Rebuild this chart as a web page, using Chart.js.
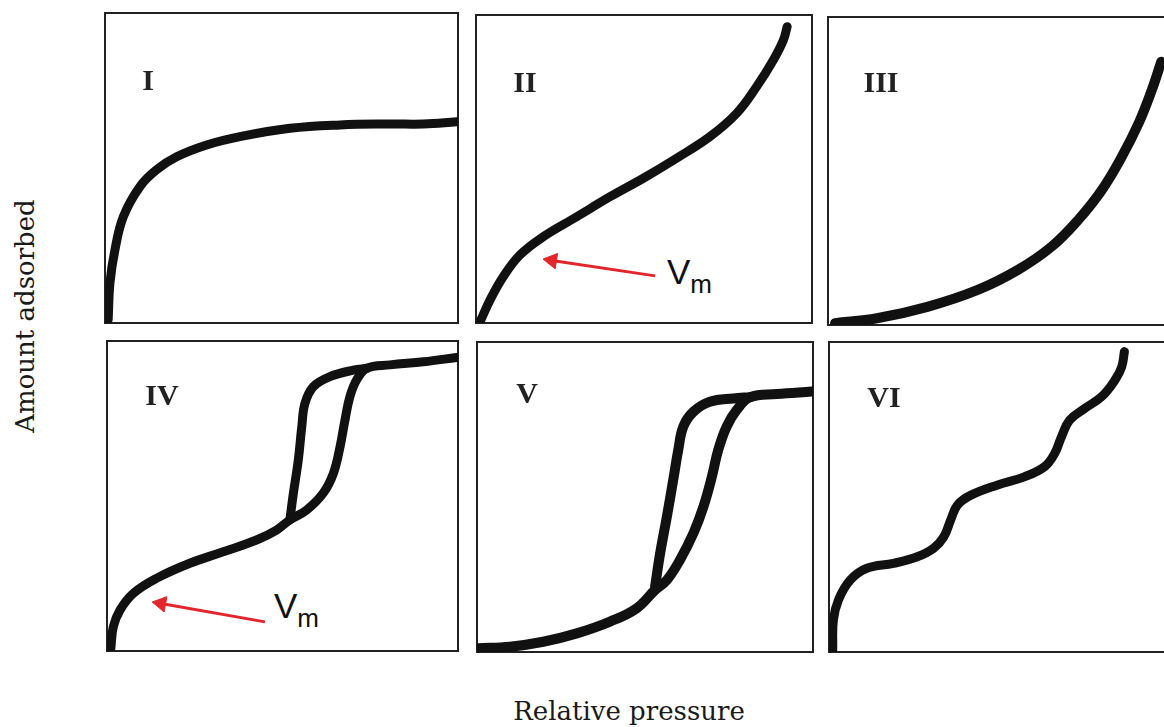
<!DOCTYPE html>
<html>
<head>
<meta charset="utf-8">
<script src="https://cdn.jsdelivr.net/npm/chart.js@4.4.1/dist/chart.umd.min.js"></script>
<style>
    body { margin: 0; background: #fff; overflow: hidden; }
    #figura { position: relative; width: 1164px; height: 727px; overflow: hidden; }
    canvas { position: absolute; }
    .rotulo { position: absolute; transform: translate(-50%, -50%); line-height: 1; white-space: nowrap; color: #222; }
    .tipo { font-family: "Liberation Serif", serif; font-weight: bold; font-size: 30px; }
    .eixo { font-family: "DejaVu Serif", serif; font-size: 26px; color: #1a1a1a; }
    .vm { position: absolute; line-height: 1; font-family: "Liberation Sans", Arial, sans-serif; font-size: 35px; color: #111; white-space: nowrap; }
    .vm span { font-size: 26px; position: relative; top: 9px; }
</style>
</head>
<body>
<div id="figura"></div>

<script>
// pressao relativa (p) e quantidade adsorvida (a), escala 0..1 de cada quadro
const p1 = [0.009, 0.014, 0.028, 0.052, 0.099, 0.146, 0.203, 0.288, 0.382, 0.524, 0.666, 0.807, 0.902, 0.996];
const a1 = [0.010, 0.129, 0.235, 0.343, 0.440, 0.494, 0.536, 0.574, 0.601, 0.628, 0.639, 0.642, 0.642, 0.649];

const p2 = [0.012, 0.042, 0.081, 0.131, 0.200, 0.300, 0.399, 0.498, 0.597, 0.696, 0.776, 0.835, 0.885, 0.915, 0.926];
const a2 = [0.004, 0.075, 0.150, 0.221, 0.280, 0.345, 0.410, 0.470, 0.535, 0.605, 0.681, 0.767, 0.854, 0.919, 0.962];

const p3 = [0.021, 0.145, 0.294, 0.443, 0.562, 0.661, 0.740, 0.810, 0.869, 0.919, 0.958, 0.986];
const a3 = [0.006, 0.022, 0.059, 0.114, 0.179, 0.254, 0.341, 0.438, 0.546, 0.655, 0.763, 0.855];

const p4ads = [0.011, 0.018, 0.037, 0.075, 0.142, 0.236, 0.331, 0.426, 0.483, 0.521, 0.569, 0.616, 0.645, 0.664, 0.678, 0.692, 0.711, 0.740, 0.806, 0.901, 0.996];
const a4ads = [0.009, 0.078, 0.132, 0.186, 0.235, 0.283, 0.320, 0.358, 0.390, 0.423, 0.455, 0.509, 0.573, 0.659, 0.745, 0.820, 0.874, 0.912, 0.923, 0.933, 0.947];
const p4des = [0.740, 0.702, 0.635, 0.588, 0.564, 0.555, 0.545, 0.531, 0.521];
const a4des = [0.912, 0.906, 0.885, 0.853, 0.799, 0.724, 0.616, 0.509, 0.423];

const p5ads = [0.004, 0.098, 0.197, 0.297, 0.396, 0.475, 0.530, 0.565, 0.604, 0.644, 0.674, 0.699, 0.718, 0.743, 0.773, 0.813, 0.892, 0.996];
const a5ads = [0.012, 0.017, 0.033, 0.060, 0.098, 0.141, 0.200, 0.232, 0.297, 0.383, 0.469, 0.565, 0.652, 0.727, 0.781, 0.822, 0.832, 0.840];
const p5des = [0.813, 0.763, 0.693, 0.644, 0.614, 0.599, 0.584, 0.565, 0.545, 0.530];
const a5des = [0.822, 0.818, 0.807, 0.775, 0.727, 0.652, 0.555, 0.436, 0.318, 0.211];

const p6 = [0.011, 0.013, 0.028, 0.063, 0.112, 0.191, 0.261, 0.310, 0.340, 0.360, 0.380, 0.420, 0.499, 0.578, 0.638, 0.668, 0.688, 0.712, 0.757, 0.807, 0.846, 0.866, 0.874];
const a6 = [0.006, 0.103, 0.168, 0.232, 0.270, 0.286, 0.307, 0.335, 0.372, 0.426, 0.474, 0.506, 0.539, 0.565, 0.598, 0.641, 0.695, 0.748, 0.786, 0.824, 0.877, 0.920, 0.969];

// setas do Vm (cauda -> ponta)
const setaII_p = [0.533, 0.226];
const setaII_a = [0.153, 0.203];
const setaIV_p = [0.450, 0.154];
const setaIV_a = [0.094, 0.153];

const tipos = ['I', 'II', 'III', 'IV', 'V', 'VI'];

function juntar(xs, ys) {
    return xs.map(function (x, i) { return { x: x, y: ys[i] }; });
}

function curva(xs, ys, largura) {
    return {
        data: juntar(xs, ys),
        showLine: true,
        borderColor: '#111',
        borderWidth: largura || 9,
        borderCapStyle: 'round',
        borderJoinStyle: 'round',
        pointRadius: 0,
        tension: 0.4
    };
}

function seta(xs, ys, giro) {
    return {
        data: juntar(xs, ys),
        showLine: true,
        borderColor: '#e3262b',
        borderWidth: 3,
        tension: 0,
        pointRadius: [0, 9],
        pointStyle: 'triangle',
        pointRotation: [0, giro],
        pointBackgroundColor: '#e3262b',
        pointBorderColor: '#e3262b',
        pointBorderWidth: 1
    };
}

const moldura = {
    id: 'moldura',
    beforeDatasetsDraw(chart) {
        const ctx = chart.ctx;
        const c = chart.chartArea;
        ctx.save();
        ctx.strokeStyle = '#222';
        ctx.lineWidth = 2;
        ctx.strokeRect(c.left, c.top, c.right - c.left, c.bottom - c.top);
        ctx.restore();
    }
};

const quadros = [
    { x: 105, y: 13, w: 353, h: 310, datasets: [curva(p1, a1)] },
    { x: 476, y: 15, w: 336, h: 308, datasets: [curva(p2, a2), seta(setaII_p, setaII_a, 279)] },
    { x: 828, y: 17, w: 338, h: 308, datasets: [curva(p3, a3, 10)] },
    { x: 107, y: 341, w: 351, h: 310, datasets: [curva(p4ads, a4ads), curva(p4des, a4des), seta(setaIV_p, setaIV_a, 280)] },
    { x: 477, y: 342, w: 336, h: 310, datasets: [curva(p5ads, a5ads, 10), curva(p5des, a5des, 10)] },
    { x: 829, y: 342, w: 338, h: 310, datasets: [curva(p6, a6)] }
];

// centro das letras de cada tipo
const posTipos = [[148, 80], [525, 82], [881, 82], [162, 395], [527, 393], [884, 397]];

const figura = document.getElementById('figura');
const pad = 6;

figura.insertAdjacentHTML('beforeend', `
    <div class="vm" style="left:667px; top:254px;">V<span>m</span></div>
    <div class="vm" style="left:274px; top:588px;">V<span>m</span></div>
    <div class="rotulo eixo" style="left:629px; top:711px;">Relative pressure</div>
    <div class="rotulo eixo" style="left:25px; top:316px; transform: translate(-50%, -50%) rotate(-90deg);">Amount adsorbed</div>
`);

quadros.forEach(function (q, i) {
    const canvas = document.createElement('canvas');
    canvas.width = q.w + pad * 2;
    canvas.height = q.h + pad * 2;
    canvas.style.left = (q.x - pad) + 'px';
    canvas.style.top = (q.y - pad) + 'px';
    figura.appendChild(canvas);

    new Chart(canvas, {
        type: 'scatter',
        data: { datasets: q.datasets },
        options: {
            responsive: false,
            animation: false,
            devicePixelRatio: 1,
            events: [],
            layout: { padding: pad, autoPadding: false },
            plugins: { legend: { display: false }, tooltip: { enabled: false } },
            scales: {
                x: { type: 'linear', min: 0, max: 1, display: false },
                y: { type: 'linear', min: 0, max: 1, display: false }
            }
        },
        plugins: [moldura]
    });

    const t = document.createElement('div');
    t.className = 'rotulo tipo';
    t.textContent = tipos[i];
    t.style.left = posTipos[i][0] + 'px';
    t.style.top = posTipos[i][1] + 'px';
    figura.appendChild(t);
});
</script>
</body>
</html>
